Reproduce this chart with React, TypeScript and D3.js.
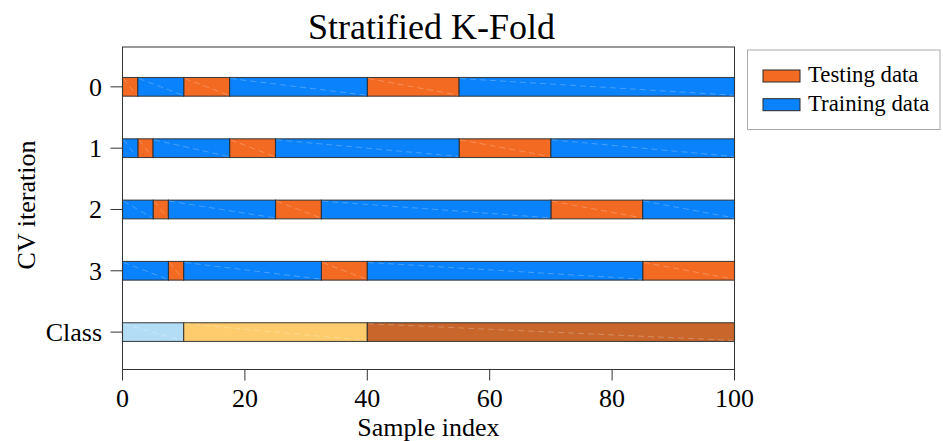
import React from "react";
import * as d3 from "d3";

const rowLabels = ["0", "1", "2", "3", "Class"];
const xTicks = [0, 20, 40, 60, 80, 100];
const testRanges: [number, number][][] = [
  [[0, 2.5], [10, 17.5], [40, 55]],
  [[2.5, 5], [17.5, 25], [55, 70]],
  [[5, 7.5], [25, 32.5], [70, 85]],
  [[7.5, 10], [32.5, 40], [85, 100]],
];
const classRanges: [number, number][] = [[0, 10], [10, 40], [40, 100]];
const classColors = ["#b3ddf6", "#fecc6c", "#c8662c"];
const testColor = "#f36a22";
const trainColor = "#0a82fb";
const nSamples = 100;

const W = 943, H = 441;
const left = 122.5, right = 734.5, top = 47, bottom = 369.5;

function complement(ranges: [number, number][]): [number, number][] {
  const out: [number, number][] = [];
  let cur = 0;
  const sorted = [...ranges].sort((a, b) => a[0] - b[0]);
  for (const [a, b] of sorted) {
    if (a > cur) out.push([cur, a]);
    cur = Math.max(cur, b);
  }
  if (cur < nSamples) out.push([cur, nSamples]);
  return out;
}

export default function App() {
  const x = d3.scaleLinear().domain([0, nSamples]).range([left, right]);
  const y = d3.scaleLinear().domain([-0.65, 4.61]).range([top, bottom]);
  const barH = 18.7;
  const font = "'Liberation Serif', 'Times New Roman', serif";

  const segs: { x0: number; x1: number; row: number; color: string }[] = [];
  testRanges.forEach((tr, i) => {
    tr.forEach(([a, b]) => segs.push({ x0: a, x1: b, row: i, color: testColor }));
    complement(tr).forEach(([a, b]) => segs.push({ x0: a, x1: b, row: i, color: trainColor }));
  });
  classRanges.forEach(([a, b], k) => segs.push({ x0: a, x1: b, row: 4, color: classColors[k] }));

  return (
    <svg width={W} height={H} style={{ position: "absolute", left: 0, top: 0, background: "#fff" }} fontFamily={font}>
      {segs.map((s, i) => {
        const x0 = x(s.x0), x1 = x(s.x1), yc = y(s.row);
        return (
          <g key={i}>
            <rect x={x0} y={yc - barH / 2} width={x1 - x0} height={barH} fill={s.color}
              stroke="#2a2a2a" strokeOpacity={0.85} strokeWidth={1.1} />
            <line x1={x0 + 1} y1={yc - barH / 2 + 1} x2={x1 - 1} y2={yc + barH / 2 - 1}
              stroke="#fff" strokeOpacity={0.3} strokeWidth={0.8} strokeDasharray="6 4" />
          </g>
        );
      })}
      <rect x={left} y={top} width={right - left} height={bottom - top} fill="none" stroke="#333" strokeWidth={1} />
      {xTicks.map((t) => (
        <g key={t}>
          <line x1={x(t)} x2={x(t)} y1={bottom} y2={bottom + 11} stroke="#333" strokeWidth={1} />
          <text x={x(t)} y={407} textAnchor="middle" fontSize={26}>{t}</text>
        </g>
      ))}
      {rowLabels.map((l, i) => (
        <g key={l}>
          <line x1={left - 12} x2={left} y1={y(i)} y2={y(i)} stroke="#333" strokeWidth={1} />
          <text x={102} y={y(i) + 8.8} textAnchor="end" fontSize={26}>{l}</text>
        </g>
      ))}
      <text x={(left + right) / 2} y={436} textAnchor="middle" fontSize={26}>Sample index</text>
      <text transform={`translate(35,205) rotate(-90)`} textAnchor="middle" fontSize={26}>CV iteration</text>
      <text x={431.5} y={39} textAnchor="middle" fontSize={36}>Stratified K-Fold</text>
      <g>
        <rect x={747.5} y={50} width={192.5} height={79.5} fill="#fff" stroke="#aaa" strokeWidth={1} />
        <rect x={763} y={70} width={37} height={12} fill={testColor} stroke="#2a2a2a" strokeWidth={1} />
        <rect x={763} y={98.7} width={37} height={12} fill={trainColor} stroke="#2a2a2a" strokeWidth={1} />
        <text x={808} y={82} fontSize={22.8}>Testing data</text>
        <text x={808} y={110.5} fontSize={22.8}>Training data</text>
      </g>
    </svg>
  );
}
